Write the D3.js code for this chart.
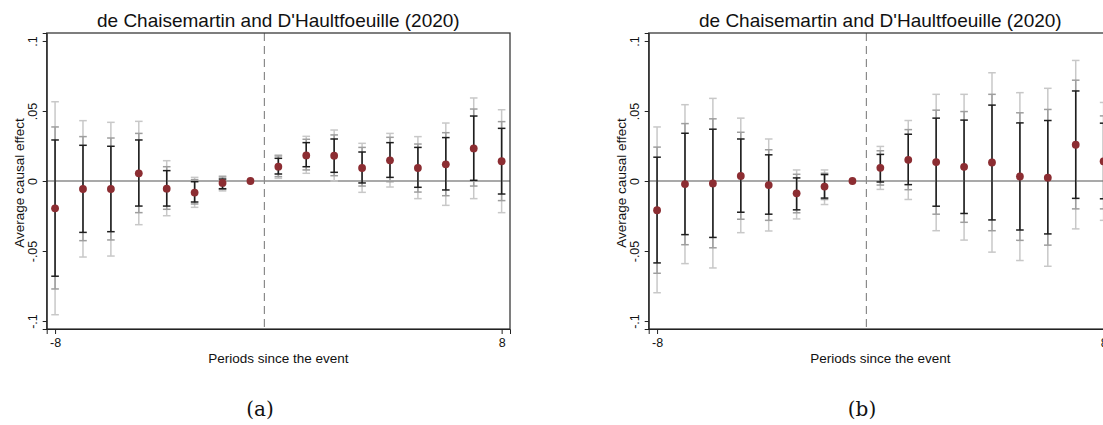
<!DOCTYPE html>
<html>
<head>
<meta charset="utf-8">
<script src="https://cdn.jsdelivr.net/npm/d3@7"></script>
<style>
  html, body { margin: 0; padding: 0; background: #fff; }
  svg { display: block; }
  text { font-family: "Liberation Sans", Arial, sans-serif; fill: #111; }
</style>
</head>
<body>
<svg id="chart" width="1103" height="425"></svg>
<script>
// ---------------- data ----------------
const periods = [-8,-7,-6,-5,-4,-3,-2,-1,0,1,2,3,4,5,6,7,8];
const titleText = "de Chaisemartin and D'Haultfoeuille (2020)";
const yTickValues = [-0.1,-0.05,0,0.05,0.1];
const yTickLabels = ["-.1","-.05","0",".05",".1"];
const xTickValues = [-8, 8];
const xTickLabels = ["-8", "8"];
const captions = ["(a)", "(b)"];

// Panel (a)
const estA      = [-0.0195,-0.0057,-0.0057,0.0055,-0.0055,-0.0083,-0.0014,0,0.0102,0.0183,0.0181,0.0093,0.0148,0.0093,0.0119,0.0233,0.0141];
const innerLoA  = [-0.068,-0.0367,-0.0362,-0.0179,-0.0179,-0.015,-0.0055,null,0.005,0.0102,0.0062,-0.0014,0.0026,-0.0045,-0.0064,0.0005,-0.0093];
const innerHiA  = [0.0293,0.0255,0.0248,0.0293,0.0074,-0.0005,0.0014,null,0.0162,0.0274,0.03,0.0207,0.0274,0.024,0.031,0.0464,0.0376];
const midLoA    = [-0.0771,-0.0426,-0.0421,-0.0226,-0.0202,-0.0164,-0.006,null,0.0031,0.0079,0.0038,-0.0036,-0.0005,-0.0079,-0.0105,-0.0036,-0.014];
const midHiA    = [0.0386,0.0317,0.0307,0.034,0.0102,0.001,0.0029,null,0.0179,0.0298,0.0329,0.024,0.0312,0.0264,0.0345,0.0514,0.0424];
const outerLoA  = [-0.0955,-0.0543,-0.0536,-0.0312,-0.0248,-0.0188,-0.0071,null,0.0019,0.0055,0,-0.0081,-0.0043,-0.0126,-0.0174,-0.0126,-0.0226];
const outerHiA  = [0.0566,0.0431,0.0419,0.0426,0.0145,0.0026,0.0036,null,0.0186,0.0319,0.0364,0.0269,0.034,0.0317,0.0414,0.0593,0.0509];

// Panel (b)
const estB      = [-0.0209,-0.0022,-0.0017,0.0036,-0.0029,-0.0088,-0.004,0,0.0094,0.0151,0.0135,0.0101,0.0132,0.0032,0.0024,0.0259,0.014];
const innerLoB  = [-0.0585,-0.0383,-0.0403,-0.0223,-0.0237,-0.0206,-0.0122,null,-0.0007,-0.0026,-0.018,-0.0232,-0.0278,-0.035,-0.0378,-0.0124,-0.0127];
const innerHiB  = [0.017,0.0341,0.037,0.03,0.0187,0.0022,0.0046,null,0.019,0.0334,0.0449,0.0435,0.0542,0.0415,0.0432,0.0643,0.0413];
const midLoB    = [-0.0659,-0.0455,-0.0477,-0.0273,-0.0281,-0.0227,-0.0132,null,-0.0029,-0.0062,-0.0237,-0.0295,-0.0355,-0.0424,-0.0458,-0.0199,-0.0199];
const midHiB    = [0.0242,0.041,0.0444,0.0348,0.0223,0.0048,0.0055,null,0.0216,0.0367,0.0506,0.0496,0.0619,0.0487,0.0511,0.072,0.0465];
const outerLoB  = [-0.0798,-0.059,-0.0621,-0.0369,-0.0357,-0.0271,-0.0168,null,-0.006,-0.0132,-0.0355,-0.0422,-0.0508,-0.0568,-0.0609,-0.0342,-0.0281];
const outerHiB  = [0.0386,0.0545,0.059,0.0449,0.03,0.0079,0.0079,null,0.0247,0.0432,0.0619,0.0619,0.0773,0.0631,0.0662,0.0861,0.0561];

// ---------------- drawing ----------------
const svg = d3.select("#chart");
svg.append("rect").attr("width",1103).attr("height",425).attr("fill","#fff");

const plot = { left: 46.7, right: 510, top: 33, bottom: 329 };
const x = d3.scaleLinear().domain([-8.3, 8.3]).range([plot.left, plot.right]);
const y = d3.scaleLinear().domain([-0.1057, 0.1057]).range([plot.bottom, plot.top]);

function drawPanel(offsetX, est, bands, caption) {
  const g = svg.append("g").attr("transform", `translate(${offsetX},0)`);

  // title
  g.append("text").attr("x", (plot.left + plot.right) / 2).attr("y", 27)
    .attr("text-anchor", "middle").style("font-size", "19px").text(titleText);

  // zero line
  g.append("line").attr("x1", plot.left).attr("x2", plot.right)
    .attr("y1", y(0)).attr("y2", y(0)).attr("stroke", "#555").attr("stroke-width", 1.1);

  // dashed event line
  g.append("line").attr("x1", x(-0.5)).attr("x2", x(-0.5))
    .attr("y1", plot.top).attr("y2", plot.bottom)
    .attr("stroke", "#8a8a8a").attr("stroke-width", 1.2).attr("stroke-dasharray", "8,5");

  // error bars: outer, mid, inner
  const cap = 3.8;
  bands.forEach(b => {
    const data = periods.map((p, i) => ({ p, lo: b.lo[i], hi: b.hi[i] })).filter(d => d.lo != null);
    const eb = g.append("g");
    eb.selectAll("line.v").data(data).join("line")
      .attr("x1", d => x(d.p)).attr("x2", d => x(d.p))
      .attr("y1", d => y(d.lo)).attr("y2", d => y(d.hi))
      .attr("stroke", b.color).attr("stroke-width", 1.5);
    ["lo", "hi"].forEach(k => {
      eb.selectAll("line.c" + k).data(data).join("line")
        .attr("x1", d => x(d.p) - cap).attr("x2", d => x(d.p) + cap)
        .attr("y1", d => y(d[k])).attr("y2", d => y(d[k]))
        .attr("stroke", b.color).attr("stroke-width", 1.5);
    });
  });

  // points
  g.selectAll("circle").data(periods.map((p, i) => ({ p, v: est[i] }))).join("circle")
    .attr("cx", d => x(d.p)).attr("cy", d => y(d.v)).attr("r", 3.9)
    .attr("fill", "#8c2d32");

  // frame
  g.append("rect").attr("x", plot.left).attr("y", plot.top)
    .attr("width", plot.right - plot.left).attr("height", plot.bottom - plot.top)
    .attr("fill", "none").attr("stroke", "#3a3a3a").attr("stroke-width", 1.3);

  // y axis
  const yAxis = d3.axisLeft(y).tickValues(yTickValues)
    .tickFormat((d, i) => yTickLabels[i]).tickSize(4).tickPadding(4);
  const ya = g.append("g").attr("transform", `translate(${plot.left},0)`).call(yAxis);
  ya.select(".domain").attr("stroke", "#222");
  ya.selectAll(".tick line").attr("stroke", "#222");
  ya.selectAll(".tick text")
    .attr("x", 0).attr("y", 0).attr("dy", 0)
    .attr("text-anchor", "middle")
    .attr("transform", "translate(-10,0) rotate(-90)")
    .style("font-size", "12.5px").style("font-family", "Liberation Sans, Arial, sans-serif").attr("fill", "#111");

  // x axis
  const xAxis = d3.axisBottom(x).tickValues(xTickValues)
    .tickFormat((d, i) => xTickLabels[i]).tickSize(5).tickPadding(4);
  const xa = g.append("g").attr("transform", `translate(0,${plot.bottom})`).call(xAxis);
  xa.select(".domain").attr("stroke", "#222");
  xa.selectAll(".tick line").attr("stroke", "#222");
  xa.selectAll(".tick text").style("font-size", "12.5px")
    .style("font-family", "Liberation Sans, Arial, sans-serif").attr("fill", "#111");

  // axis titles
  g.append("text").attr("x", (plot.left + plot.right) / 2).attr("y", 363)
    .attr("text-anchor", "middle").style("font-size", "13.5px").text("Periods since the event");
  g.append("text").attr("transform", `translate(23.5,${(plot.top + plot.bottom) / 2 + 2}) rotate(-90)`)
    .attr("text-anchor", "middle").style("font-size", "13.5px").text("Average causal effect");

  // caption
  svg.append("text").attr("x", offsetX + 260).attr("y", 416)
    .attr("text-anchor", "middle")
    .style("font-family", "'DejaVu Serif', 'Liberation Serif', serif")
    .style("font-size", "20px").text(caption);
}

drawPanel(0, estA, [
  { lo: outerLoA, hi: outerHiA, color: "#c8c8c8" },
  { lo: midLoA, hi: midHiA, color: "#9e9e9e" },
  { lo: innerLoA, hi: innerHiA, color: "#1e1e1e" }
], captions[0]);

drawPanel(602, estB, [
  { lo: outerLoB, hi: outerHiB, color: "#c8c8c8" },
  { lo: midLoB, hi: midHiB, color: "#9e9e9e" },
  { lo: innerLoB, hi: innerHiB, color: "#1e1e1e" }
], captions[1]);
</script>
</body>
</html>
